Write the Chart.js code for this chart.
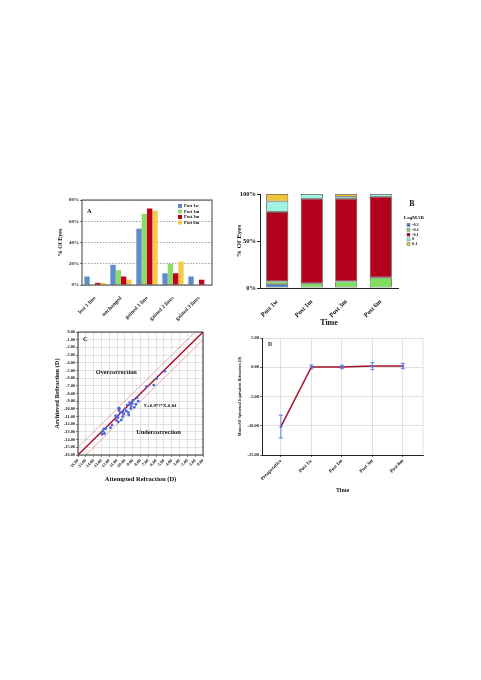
<!DOCTYPE html>
<html><head><meta charset="utf-8">
<script src="https://cdn.jsdelivr.net/npm/chart.js@4"></script>
<style>
html,body{margin:0;padding:0;background:#fff;}
body{width:481px;height:680px;position:relative;overflow:hidden;}
canvas{position:absolute;}
</style></head>
<body>
<canvas id="ca" width="180" height="135" style="left:40px;top:190px"></canvas>
<canvas id="cb" width="210" height="150" style="left:225px;top:185px"></canvas>
<canvas id="cc" width="180" height="165" style="left:35px;top:322px"></canvas>
<canvas id="cd" width="205" height="170" style="left:225px;top:328px"></canvas>
<script>
// ---------- Panel A data ----------
const aCategories = ['lost 1 line', 'unchanged', 'gained 1 line', 'gained 2 lines', 'gained 3 lines'];
const aSeriesNames = ['Post 1w', 'Post 1m', 'Post 3m', 'Post 6m'];
const aPost1w = [8, 19, 53, 11, 8];
const aPost1m = [0, 14, 67, 20, 0];
const aPost3m = [2, 8, 72, 11, 5];
const aPost6m = [2, 5, 70, 22, 0];

// ---------- Panel B data ----------
const bCategories = ['Post 1w', 'Post 1m', 'Post 3m', 'Post 6m'];
const bLogMAR = ['-0.3', '-0.2', '-0.1', '0', '0.1'];
const bMinus03 = [4, 0, 0, 0];
const bMinus02 = [3, 5, 7, 11];
const bMinus01 = [74, 90, 88, 86];
const bZero = [11, 5, 2, 3];
const bPlus01 = [8, 0, 3, 0];

// ---------- Panel C data ----------
const cAttempted = [-4.9, -5.9, -6.3, -7.25, -8.45, -8.3, -8.6, -9.0, -9.05, -9.4, -9.7, -9.25, -10.0, -9.8, -10.2, -9.55, -9.5, -10.15, -10.7, -10.75, -10.6, -10.9, -11.2, -10.9, -11.1, -10.45, -10.3, -10.85, -11.65, -11.85, -12.45, -12.7, -12.8, -12.9, -12.6, -10.8, -9.2, -8.8];
const cAchieved  = [-5.1, -6.05, -6.9, -7.1, -8.55, -9.0, -9.4, -8.9, -9.3, -9.2, -9.5, -9.95, -10.0, -10.3, -10.5, -10.5, -10.8, -10.7, -9.95, -10.2, -10.5, -10.9, -10.9, -11.15, -11.5, -11.45, -11.0, -11.7, -12.1, -12.45, -12.55, -12.6, -12.9, -13.3, -13.2, -9.9, -9.6, -9.8];
const cIdentityX = [-16, 0];
const cIdentityY = [-16, 0];
const cUpperX = [-16, -1];
const cUpperY = [-15, 0];
const cLowerX = [-15, 0];
const cLowerY = [-16, -1];

// ---------- Panel D data ----------
const dTimes = ['Preoperative', 'Post 1w', 'Post 1m', 'Post 3m', 'Post 6m'];
const dMean = [-10.15, 0.05, 0.05, 0.2, 0.2];
const dSD = [1.95, 0.33, 0.3, 0.6, 0.45];

const SERIF = "'Liberation Serif', 'DejaVu Serif', serif";
const f = (size) => ({family: SERIF, size: size, weight: 'bold'});
Chart.defaults.color = '#111';
Chart.defaults.font.family = SERIF;

// ---------- Chart A ----------
const aColors = ['#5b8ec8', '#8edb6a', '#c0001c', '#f6ca44'];
const aSeries = [aPost1w, aPost1m, aPost3m, aPost6m];
new Chart(document.getElementById('ca'), {
  type: 'bar',
  data: {
    labels: aCategories,
    datasets: aSeries.map((d, i) => ({label: aSeriesNames[i], data: d, backgroundColor: aColors[i], borderWidth: 0}))
  },
  options: {
    responsive: false, animation: false,
    layout: {padding: {top: 10, right: 8, left: 0, bottom: 0}},
    plugins: {legend: {display: false}, tooltip: {enabled: false}},
    datasets: {bar: {categoryPercentage: 0.82, barPercentage: 1}},
    scales: {
      x: {
        grid: {display: false}, border: {display: false},
        ticks: {font: f(5.5), color: '#222', maxRotation: 45, minRotation: 45, padding: 2, autoSkip: false},
        afterFit: s => { s.height = 40; }
      },
      y: {
        min: 0, max: 80,
        ticks: {stepSize: 20, callback: v => v + '%', font: f(5), color: '#222', padding: 1},
        grid: {color: '#777', lineWidth: 0.7, tickLength: 2, tickColor: '#444'},
        border: {display: false, dash: [1.5, 1.5]},
        title: {display: true, text: '% Of Eyes', font: f(6), padding: {top: 17, bottom: 0}},
        afterFit: s => { s.width = 42; }
      }
    }
  },
  plugins: [{
    id: 'aDeco',
    afterDraw(chart) {
      const ctx = chart.ctx, a = chart.chartArea;
      ctx.save();
      ctx.strokeStyle = '#444'; ctx.lineWidth = 1;
      ctx.strokeRect(a.left, a.top, a.right - a.left, a.bottom - a.top);
      ctx.fillStyle = '#111'; ctx.font = 'bold 6.5px ' + SERIF;
      ctx.textBaseline = 'middle'; ctx.textAlign = 'left';
      ctx.fillText('A', a.left + 5, a.top + 11);
      ctx.font = 'bold 4.5px ' + SERIF;
      chart.data.datasets.forEach((ds, i) => {
        const y = a.top + 6 + i * 5.5;
        ctx.fillStyle = ds.backgroundColor;
        ctx.fillRect(a.right - 34, y - 2, 4, 4);
        ctx.fillStyle = '#111';
        ctx.fillText(ds.label, a.right - 28, y);
      });
      ctx.restore();
    }
  }]
});

// ---------- Chart B ----------
const bColors = ['#4a80c0', '#7fdc5f', '#b3001b', '#a0f5e2', '#f0c53a'];
const bSeries = [bMinus03, bMinus02, bMinus01, bZero, bPlus01];
new Chart(document.getElementById('cb'), {
  type: 'bar',
  data: {
    labels: bCategories,
    datasets: bSeries.map((d, i) => ({label: bLogMAR[i], data: d, backgroundColor: bColors[i], borderColor: '#3a3a3a', borderWidth: 0.8, borderSkipped: false}))
  },
  options: {
    responsive: false, animation: false,
    layout: {padding: {top: 9, right: 37, left: 0, bottom: 0}},
    plugins: {legend: {display: false}, tooltip: {enabled: false}},
    datasets: {bar: {categoryPercentage: 1, barPercentage: 0.64}},
    scales: {
      x: {
        stacked: true,
        grid: {display: false}, border: {display: true, color: '#222', width: 1},
        ticks: {font: f(6.5), color: '#111', maxRotation: 45, minRotation: 45, padding: 2, autoSkip: false},
        title: {display: true, text: 'Time', font: f(8), padding: {top: 0, bottom: 7}},
        afterFit: s => { s.height = 47; }
      },
      y: {
        stacked: true, min: 0, max: 100,
        ticks: {stepSize: 50, callback: v => v + '%', font: f(6.5), color: '#111', padding: 1},
        grid: {display: true, drawOnChartArea: false, tickLength: 3, color: '#222'},
        border: {display: true, color: '#222', width: 1},
        title: {display: true, text: '% Of Eyes', font: f(7), padding: {top: 10, bottom: 0}},
        afterFit: s => { s.width = 35; }
      }
    }
  },
  plugins: [{
    id: 'bDeco',
    afterDraw(chart) {
      const ctx = chart.ctx, a = chart.chartArea;
      ctx.save();
      ctx.fillStyle = '#111'; ctx.textBaseline = 'middle';
      ctx.textAlign = 'center';
      ctx.font = 'bold 8px ' + SERIF;
      ctx.fillText('B', a.right + 14, a.top + 10);
      ctx.font = 'bold 5px ' + SERIF;
      ctx.fillText('LogMAR', a.right + 16, a.top + 24);
      ctx.textAlign = 'left';
      ctx.font = 'bold 4.2px ' + SERIF;
      chart.data.datasets.forEach((ds, i) => {
        const y = a.top + 31 + i * 4.8;
        ctx.fillStyle = ds.backgroundColor;
        ctx.fillRect(a.right + 9, y - 1.5, 3, 3);
        ctx.strokeStyle = '#555'; ctx.lineWidth = 0.4;
        ctx.strokeRect(a.right + 9, y - 1.5, 3, 3);
        ctx.fillStyle = '#111';
        ctx.fillText(ds.label, a.right + 14, y);
      });
      ctx.restore();
    }
  }]
});

// ---------- Chart C ----------
const toPts = (xs, ys) => xs.map((x, i) => ({x: x, y: ys[i]}));
new Chart(document.getElementById('cc'), {
  type: 'scatter',
  data: {
    datasets: [
      {data: toPts(cAttempted, cAchieved), backgroundColor: '#4a68e0', pointRadius: 1.4, borderWidth: 0},
      {type: 'line', data: toPts(cIdentityX, cIdentityY), borderColor: '#b0001e', borderWidth: 1.3, pointRadius: 0},
      {type: 'line', data: toPts(cUpperX, cUpperY), borderColor: '#e08585', borderWidth: 0.7, pointRadius: 0},
      {type: 'line', data: toPts(cLowerX, cLowerY), borderColor: '#e08585', borderWidth: 0.7, pointRadius: 0}
    ]
  },
  options: {
    responsive: false, animation: false,
    layout: {padding: {top: 10, right: 12, left: 0, bottom: 0}},
    plugins: {legend: {display: false}, tooltip: {enabled: false}},
    scales: {
      x: {
        type: 'linear', min: -16, max: 0,
        ticks: {stepSize: 1, callback: v => v.toFixed(2), font: f(4.3), color: '#222', maxRotation: 45, minRotation: 45, padding: 1, autoSkip: false},
        grid: {color: '#d2d2d2', lineWidth: 0.6, tickLength: 2, tickColor: '#333'},
        border: {display: false},
        title: {display: true, text: 'Attempted Refraction (D)', font: f(6.5), padding: {top: 0, bottom: 4}},
        afterFit: s => { s.height = 32; }
      },
      y: {
        min: -16, max: 0,
        ticks: {stepSize: 1, callback: v => v.toFixed(2), font: f(4.3), color: '#222', padding: 1, autoSkip: false},
        grid: {color: '#d2d2d2', lineWidth: 0.6, tickLength: 2, tickColor: '#333'},
        border: {display: false},
        title: {display: true, text: 'Archieved Refraction (D)', font: f(6.5), padding: {top: 18, bottom: 0}},
        afterFit: s => { s.width = 43; }
      }
    }
  },
  plugins: [{
    id: 'cDeco',
    afterDraw(chart) {
      const ctx = chart.ctx, a = chart.chartArea, xs = chart.scales.x, ys = chart.scales.y;
      ctx.save();
      ctx.strokeStyle = '#333'; ctx.lineWidth = 1;
      ctx.strokeRect(a.left, a.top, a.right - a.left, a.bottom - a.top);
      ctx.fillStyle = '#111'; ctx.textBaseline = 'middle'; ctx.textAlign = 'left';
      ctx.font = 'bold 6.5px ' + SERIF;
      ctx.fillText('C', a.left + 5, a.top + 7);
      ctx.textAlign = 'center';
      ctx.font = 'bold 6.3px ' + SERIF;
      ctx.fillText('Overcorrection', xs.getPixelForValue(-11.1), ys.getPixelForValue(-5.2));
      ctx.fillText('Undercorrection', xs.getPixelForValue(-5.7), ys.getPixelForValue(-13.0));
      ctx.font = 'bold 4.8px ' + SERIF;
      ctx.fillText('Y=0.977*X-0.04', xs.getPixelForValue(-5.5), ys.getPixelForValue(-9.6));
      ctx.restore();
    }
  }]
});

// ---------- Chart D ----------
new Chart(document.getElementById('cd'), {
  type: 'line',
  data: {
    datasets: [{
      data: dMean.map((v, i) => ({x: i, y: v})),
      borderColor: '#a8102a', borderWidth: 1.5,
      pointStyle: 'rect', pointRadius: 1.8, pointBackgroundColor: '#5577e0', pointBorderWidth: 0
    }]
  },
  options: {
    responsive: false, animation: false,
    layout: {padding: {top: 10, right: 7, left: 0, bottom: 0}},
    plugins: {legend: {display: false}, tooltip: {enabled: false}},
    scales: {
      x: {
        type: 'linear', min: -0.62, max: 4.66,
        afterBuildTicks: s => { s.ticks = dTimes.map((_, i) => ({value: i})); },
        ticks: {callback: v => dTimes[v], font: f(5), color: '#111', maxRotation: 45, minRotation: 45, padding: 1, autoSkip: false},
        grid: {color: '#d4d4d4', lineWidth: 0.7, tickLength: 2, tickColor: '#222'},
        border: {display: true, color: '#222', width: 1},
        title: {display: true, text: 'Time', font: f(6), padding: {top: 0, bottom: 4}},
        afterFit: s => { s.height = 43; }
      },
      y: {
        min: -15, max: 5,
        ticks: {stepSize: 5, callback: v => v.toFixed(2), font: f(4.5), color: '#111', padding: 1},
        grid: {color: '#d4d4d4', lineWidth: 0.7, tickLength: 2, tickColor: '#222'},
        border: {display: true, color: '#222', width: 1},
        title: {display: true, text: 'Mean\u00B1SD Spherical Equivalent Refraction (D)', font: f(4), padding: {top: 13, bottom: 0}},
        afterFit: s => { s.width = 37; }
      }
    }
  },
  plugins: [{
    id: 'dDeco',
    beforeDatasetsDraw(chart) {
      const ctx = chart.ctx, xs = chart.scales.x, ys = chart.scales.y, a = chart.chartArea;
      ctx.save();
      ctx.strokeStyle = '#d4d4d4'; ctx.lineWidth = 0.7;
      ctx.beginPath(); ctx.moveTo(a.right, a.top); ctx.lineTo(a.right, a.bottom); ctx.stroke();
      ctx.strokeStyle = '#5a7fe6'; ctx.lineWidth = 1;
      dMean.forEach((m, i) => {
        const x = xs.getPixelForValue(i);
        const yTop = ys.getPixelForValue(m + dSD[i]);
        const yBot = ys.getPixelForValue(m - dSD[i]);
        ctx.beginPath();
        ctx.moveTo(x, yTop); ctx.lineTo(x, yBot);
        ctx.moveTo(x - 2, yTop); ctx.lineTo(x + 2, yTop);
        ctx.moveTo(x - 2, yBot); ctx.lineTo(x + 2, yBot);
        ctx.stroke();
      });
      ctx.restore();
    },
    afterDraw(chart) {
      const ctx = chart.ctx, a = chart.chartArea;
      ctx.save();
      ctx.fillStyle = '#111'; ctx.font = 'bold 5.5px ' + SERIF;
      ctx.textBaseline = 'middle'; ctx.textAlign = 'left';
      ctx.fillText('D', a.left + 6, a.top + 7);
      ctx.restore();
    }
  }]
});
</script>
</body></html>
